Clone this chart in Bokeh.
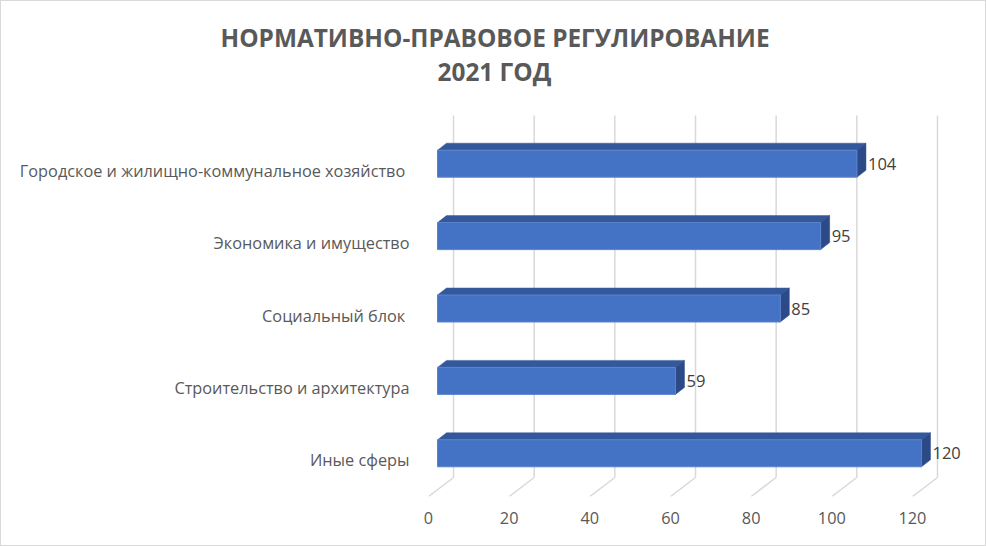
from bokeh.plotting import figure
from bokeh.models import Range1d, FixedTicker, Title
from bokeh.core.properties import value
from bokeh.embed import file_html
from bokeh.resources import INLINE

# data, bottom to top as drawn
categories = [
    "Иные сферы",
    "Строительство и архитектура",
    "Социальный блок ",
    "Экономика и имущество",
    "Городское и жилищно-коммунальное хозяйство ",
]
values = [120, 59, 85, 95, 104]
x_ticks = [0, 20, 40, 60, 80, 100, 120]

title_line1 = "НОРМАТИВНО-ПРАВОВОЕ  РЕГУЛИРОВАНИЕ"
title_line2 = "2021 ГОД"

FONT = "Open Sans"
TEXT_COLOR = "#595959"

# pixel scale of the front (floor) plane
PX_X = 4.033   # px per unit of value
PX_Y = 72.4    # px per category band

# oblique depth offsets in px (dx right, dy up)
bar_front = (9, 7)
bar_depth = (9, 7)
wall = (25, 19)
bar_h = 27 / PX_Y

frame_w, frame_h = 542, 384
x0 = -0.5
y0 = -0.5
y_top = y0 + frame_h / PX_Y

p = figure(frame_width=frame_w, frame_height=frame_h,
           min_border_left=425, min_border_right=17,
           min_border_top=111, min_border_bottom=49,
           x_range=Range1d(x0, x0 + frame_w / PX_X),
           y_range=Range1d(y0, y_top),
           title=None,
           output_backend="svg", toolbar_location=None, tools="")
p.outline_line_color = None
p.xgrid.visible = False
p.ygrid.visible = False
p.background_fill_color = "white"
p.border_fill_color = "white"
p.styles = {"border": "1px solid #d9d9d9"}

fdx, fdy = bar_front[0] / PX_X, bar_front[1] / PX_Y
bdx, bdy = bar_depth[0] / PX_X, bar_depth[1] / PX_Y
wdx, wdy = wall[0] / PX_X, wall[1] / PX_Y
grid_top = y0 + (496 - 115) / PX_Y

# back wall gridlines and floor lines
p.segment(x0=[t + wdx for t in x_ticks], y0=[y0 + wdy] * len(x_ticks),
          x1=[t + wdx for t in x_ticks], y1=[grid_top] * len(x_ticks),
          line_color="#d9d9d9", line_width=1.5)
p.segment(x0=x_ticks, y0=[y0] * len(x_ticks),
          x1=[t + wdx for t in x_ticks], y1=[y0 + wdy] * len(x_ticks),
          line_color="#d9d9d9", line_width=1.5)

# 3d bars
top_xs, top_ys, side_xs, side_ys = [], [], [], []
lefts, rights, bottoms, tops = [], [], [], []
for i, v in enumerate(values):
    l = fdx
    r = v + fdx
    b = i - bar_h / 2 + fdy
    t = i + bar_h / 2 + fdy
    lefts.append(l); rights.append(r); bottoms.append(b); tops.append(t)
    top_xs.append([l, r, r + bdx, l + bdx])
    top_ys.append([t, t, t + bdy, t + bdy])
    side_xs.append([r, r + bdx, r + bdx, r])
    side_ys.append([b, b + bdy, t + bdy, t])

p.patches(top_xs, top_ys, fill_color="#34589c", line_color="#34589c", line_width=0.5)
p.patches(side_xs, side_ys, fill_color="#2b4a87", line_color="#2b4a87", line_width=0.5)
p.quad(left=lefts, right=rights, bottom=bottoms, top=tops,
       fill_color="#4472c4", line_color="#5b84cc", line_width=1)

# value labels
p.text(x=[v + fdx + bdx + 2 / PX_X for v in values],
       y=[i + fdy for i in range(len(values))],
       text=[str(v) for v in values],
       text_font=value(FONT), text_font_size="16.5px", text_color="#404040",
       text_align="left", text_baseline="middle")

# axes
p.xaxis.ticker = FixedTicker(ticks=x_ticks)
p.yaxis.ticker = FixedTicker(ticks=list(range(len(categories))))
p.yaxis.major_label_overrides = {i: c for i, c in enumerate(categories)}
for ax in (p.xaxis, p.yaxis):
    ax.axis_line_color = None
    ax.major_tick_line_color = None
    ax.minor_tick_line_color = None
    ax.major_label_text_font = FONT
    ax.major_label_text_font_size = "16.3px"
    ax.major_label_text_color = TEXT_COLOR
p.xaxis.major_label_standoff = 9
p.yaxis.major_label_standoff = 11

# two-line title, left edges placed relative to the frame
p.add_layout(Title(text=title_line2, align="left", offset=11,
                   standoff=49, text_font=FONT, text_font_size="24.4px",
                   text_font_style="bold", text_color=TEXT_COLOR), "above")
p.add_layout(Title(text=title_line1, align="left", offset=-206,
                   standoff=-51, text_font=FONT, text_font_size="24.4px",
                   text_font_style="bold", text_color=TEXT_COLOR), "above")

open("out.html", "w").write(file_html(p, INLINE))
